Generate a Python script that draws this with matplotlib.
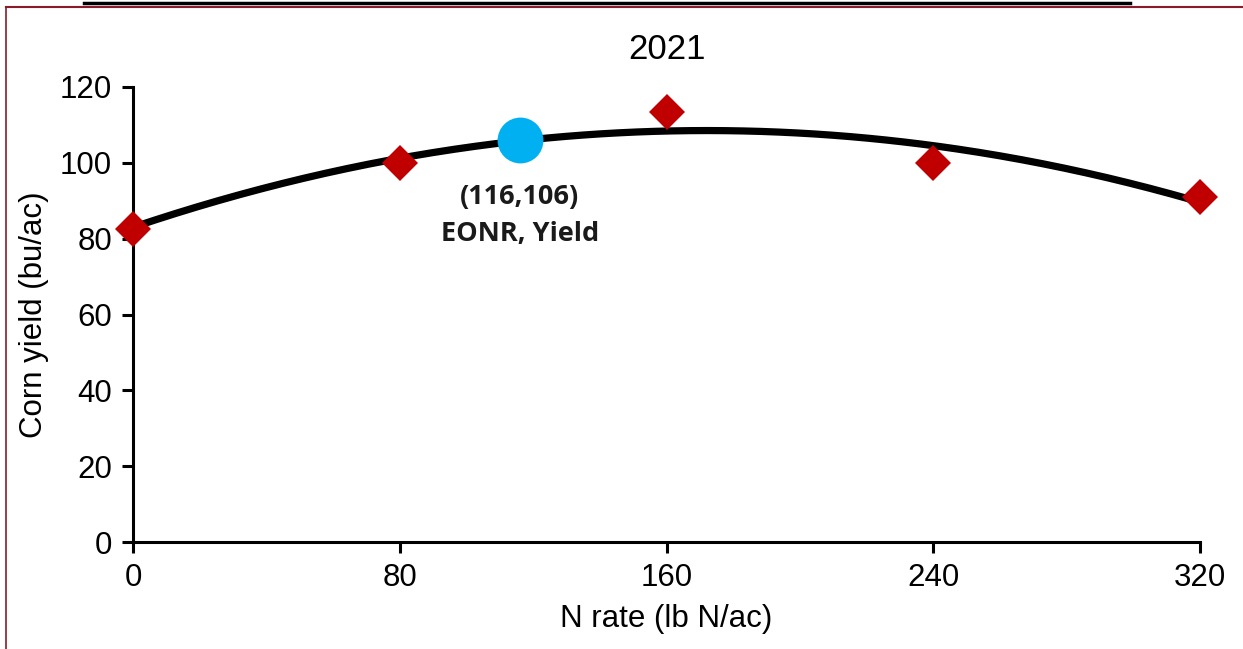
import numpy as np
import matplotlib
matplotlib.use("Agg")
import matplotlib.pyplot as plt
from matplotlib.lines import Line2D

# Data
n_rate = [0, 80, 160, 240, 320]
yield_obs = [82.5, 100.0, 113.5, 100.0, 91.0]
# quadratic fit coefficients (intercept, linear, quadratic)
fit_a, fit_b, fit_c = 83.0, 0.2966, -0.000862
eonr_x, eonr_y = 116, 106
x_ticks = [0, 80, 160, 240, 320]
y_ticks = [0, 20, 40, 60, 80, 100, 120]
title = "2021"
xlabel = "N rate (lb N/ac)"
ylabel = "Corn yield (bu/ac)"
annot = "(116,106)\nEONR, Yield"

plt.rcParams['font.family'] = ['Liberation Sans', 'DejaVu Sans']

W, H = 1243, 649
fig = plt.figure(figsize=(W/100, H/100), dpi=100)
ax = fig.add_axes([133/W, 1-542/H, (1200-133)/W, (542-87)/H])

xs = np.linspace(0, 320, 300)
ys = fit_a + fit_b*xs + fit_c*xs**2
ax.plot(xs, ys, color='black', lw=5.2, solid_capstyle='butt', zorder=2)
ax.plot(n_rate, yield_obs, linestyle='none', marker='D', color='#C00000',
        markersize=18, markeredgewidth=0, zorder=3, clip_on=False)
ax.plot([eonr_x], [eonr_y], linestyle='none', marker='o', color='#00B0F0',
        markersize=33, markeredgewidth=0, zorder=4)
ax.text(eonr_x, 86.2, annot, ha='center', va='center', fontsize=19.5,
        fontweight='bold', family=['Open Sans', 'DejaVu Sans'], linespacing=1.55,
        color='#1a1a1a')

ax.set_xlim(0, 320)
ax.set_ylim(0, 120)
ax.set_xticks(x_ticks)
ax.set_yticks(y_ticks)
ax.tick_params(axis='both', labelsize=22.5, direction='out', length=8, width=2.2,
               color='black', pad=7)
for s in ['top', 'right']:
    ax.spines[s].set_visible(False)
for s in ['left', 'bottom']:
    ax.spines[s].set_linewidth(2.2)
ax.set_title(title, fontsize=25, pad=20)
ax.set_xlabel(xlabel, fontsize=22.5, labelpad=8)
ax.set_ylabel(ylabel, fontsize=22.5, labelpad=8)

# decorative frame
fig.add_artist(Line2D([6/W, 6/W], [0, 1-7/H], color='#8B1A2B', lw=1.2))
fig.add_artist(Line2D([6/W, 1], [1-7/H, 1-7/H], color='#8B1A2B', lw=1.5))
fig.add_artist(Line2D([84/W, 1130/W], [1-2.5/H, 1-2.5/H], color='black', lw=2.5))

fig.savefig("out.png", dpi=100)
